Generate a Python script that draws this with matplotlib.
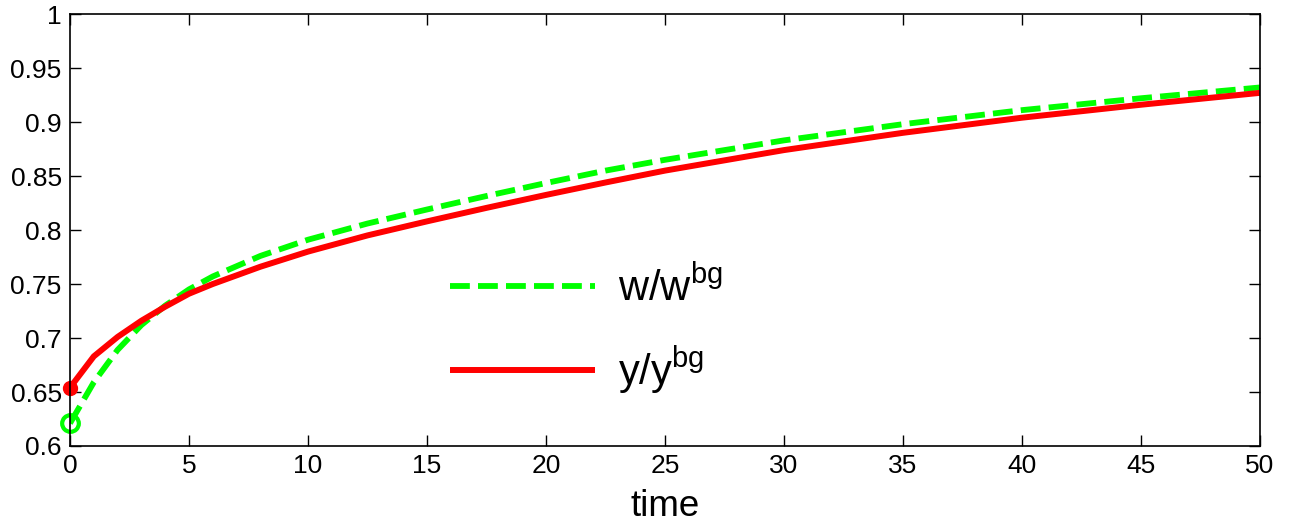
import matplotlib
matplotlib.use('Agg')
import matplotlib.pyplot as plt
import numpy as np

plt.rcParams['font.family'] = ['Liberation Sans', 'DejaVu Sans']
plt.rcParams['mathtext.default'] = 'regular'

t = [0, 1, 2, 3, 4, 5, 6, 8, 10, 12.5, 15, 17.5, 20, 22.5, 25, 30, 35, 40, 45, 50]
w_rel = [0.621, 0.659, 0.689, 0.712, 0.730, 0.745, 0.757, 0.776, 0.791, 0.806,
         0.819, 0.8315, 0.8435, 0.855, 0.865, 0.883, 0.898, 0.911, 0.922, 0.932]
y_rel = [0.654, 0.683, 0.701, 0.716, 0.729, 0.741, 0.750, 0.766, 0.780, 0.795,
         0.808, 0.8205, 0.8325, 0.844, 0.855, 0.874, 0.890, 0.904, 0.916, 0.927]

green = '#00ff00'
red = '#ff0000'

fig = plt.figure(figsize=(12.89, 5.29), dpi=100)
ax = fig.add_axes([0.0543, 0.1569, 0.9232, 0.8166])

ax.plot(t, w_rel, color=green, lw=4.2, dashes=(3.4, 1.4), dash_capstyle='butt',
        label=r'w/w$^{bg}$')
ax.plot(t, y_rel, color=red, lw=4.3, solid_capstyle='butt', label=r'y/y$^{bg}$')
ax.plot(t[0], w_rel[0], 'o', mfc='none', mec=green, mew=3, ms=12, clip_on=False)
ax.plot(t[0], y_rel[0], 'o', color=red, ms=10, clip_on=False)

ax.set_xlim(0, 50)
ax.set_ylim(0.6, 1)
ax.set_xticks(np.arange(0, 51, 5))
ax.set_yticks([0.6, 0.65, 0.7, 0.75, 0.8, 0.85, 0.9, 0.95, 1])
ax.set_yticklabels(['0.6', '0.65', '0.7', '0.75', '0.8', '0.85', '0.9', '0.95', '1'])
ax.tick_params(direction='in', length=8, width=1, top=True, right=True,
               labelsize=19, pad=6)
for s in ax.spines.values():
    s.set_linewidth(1.2)
ax.set_xlabel('time', fontsize=26.5, labelpad=8)

ax.legend(loc='upper left', bbox_to_anchor=(0.319, 0.414), frameon=False,
          fontsize=30, handlelength=3.5, handletextpad=0.55, labelspacing=0.85,
          borderpad=0, borderaxespad=0)

plt.savefig('out.png', dpi=100)
